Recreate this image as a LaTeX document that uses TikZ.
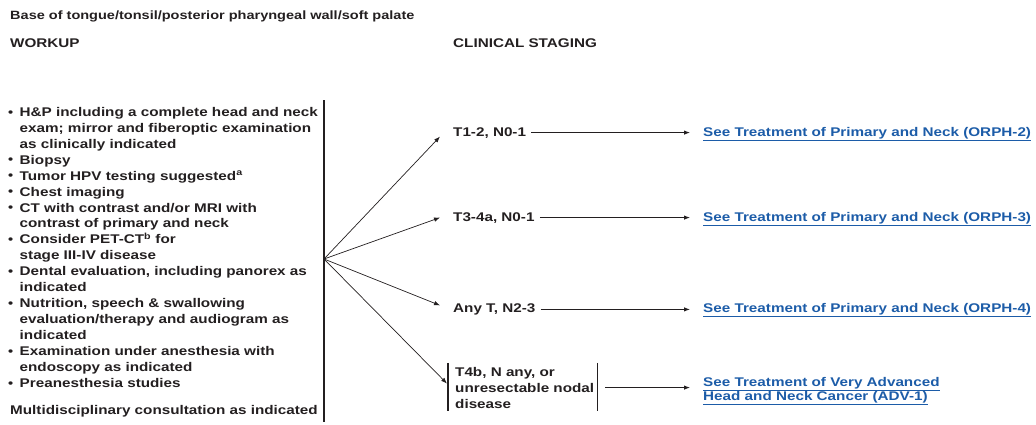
\documentclass[tikz,border=0pt]{standalone}
\usepackage{fontspec}
\setmainfont{Liberation Sans}[FakeStretch=1.21]
\usepackage{tikz}
\usetikzlibrary{arrows.meta,calc}
\definecolor{ink}{RGB}{35,31,32}
\definecolor{linkblue}{RGB}{28,92,168}
\newcommand{\bul}{\makebox[11.5pt][l]{\fontsize{12}{12}\selectfont\raisebox{0.3pt}{•}}}
\newcommand{\ind}{\hspace*{11.5pt}}

\begin{document}
\begin{tikzpicture}[x=1pt,y=-1pt,color=ink,
    font=\fontsize{12.6}{15.95}\selectfont\bfseries,
    lbl/.style={inner sep=0pt,anchor=base west},
    stage/.style={inner xsep=5pt,inner ysep=0pt,anchor=base west},
    seelink/.style={inner sep=0pt,anchor=base west,text=linkblue,align=left,
        font=\fontsize{12.6}{14.5}\selectfont\bfseries},
    arr/.style={-{Latex[length=6pt,width=4.5pt]},line width=0.9pt}]
    \useasboundingbox (0,0) rectangle (1036,424);
    % headings
    \node[lbl,font=\fontsize{12}{14}\selectfont\bfseries] (title) at (10,19.5)
        {Base of tongue/tonsil/posterior pharyngeal wall/soft palate};
    \node[lbl] (workup) at (10,47) {WORKUP};
    \node[lbl] (staging) at (453,47) {CLINICAL STAGING};
    % workup list
    \node[inner sep=0pt,anchor=north west,align=left] (list) at (8,107) {%
        \bul H\&P including a complete head and neck\\
        \ind exam; mirror and fiberoptic examination\\
        \ind as clinically indicated\\
        \bul Biopsy\\
        \bul Tumor HPV testing suggested\textsuperscript{a}\\
        \bul Chest imaging\\
        \bul CT with contrast and/or MRI with\\
        \ind contrast of primary and neck\\
        \bul Consider PET-CT\textsuperscript{b} for\\
        \ind stage III-IV disease\\
        \bul Dental evaluation, including panorex as\\
        \ind indicated\\
        \bul Nutrition, speech \& swallowing\\
        \ind evaluation/therapy and audiogram as\\
        \ind indicated\\
        \bul Examination under anesthesia with\\
        \ind endoscopy as indicated\\
        \bul Preanesthesia studies};
    \node[lbl] (multi) at (10,414.5) {Multidisciplinary consultation as indicated};
    \draw[line width=1.6pt] (324,100) -- (324,422);
    \coordinate (br) at (324,259);
    % staging
    \foreach \n/\y/\txt/\orph in {1/136/{T1-2, N0-1}/2,2/221/{T3-4a, N0-1}/3,3/312.5/{Any T, N2-3}/4}{
        \node[stage] (t\n) at (448,\y) {\txt};
        \node[seelink] (l\n) at (703,\y) {\underline{See Treatment of Primary and Neck (ORPH-\orph)}};
        \draw[arr,shorten >=13pt] (t\n.east) -- (t\n.east -| l\n.west);
    }
    \node[inner sep=0pt,anchor=north west,align=left] (t4) at (455,366.8)
        {T4b, N any, or\\unresectable nodal\\disease};
    \draw[line width=1.6pt] ([xshift=-7pt,yshift=4pt]t4.north west) -- ([xshift=-7pt,yshift=-3pt]t4.south west);
    \draw[line width=1.6pt] ([xshift=3pt,yshift=4pt]t4.north east) -- ([xshift=3pt,yshift=-3pt]t4.south east);
    \node[seelink,anchor=north west] (l4) at (703,376.8)
        {\underline{See Treatment of Very Advanced}\\\underline{Head and Neck Cancer (ADV-1)}};
    \draw[arr,shorten >=13pt] ([xshift=11pt]t4.east) -- (t4.east -| l4.west);
    % branches
    \foreach \s/\dy in {t1/-4,t2/0,t3/4,t4/4}
        \draw[arr,line width=0.7pt] (br) -- ([shift={(-8pt,\dy pt)}]\s.west);
\end{tikzpicture}
\end{document}
